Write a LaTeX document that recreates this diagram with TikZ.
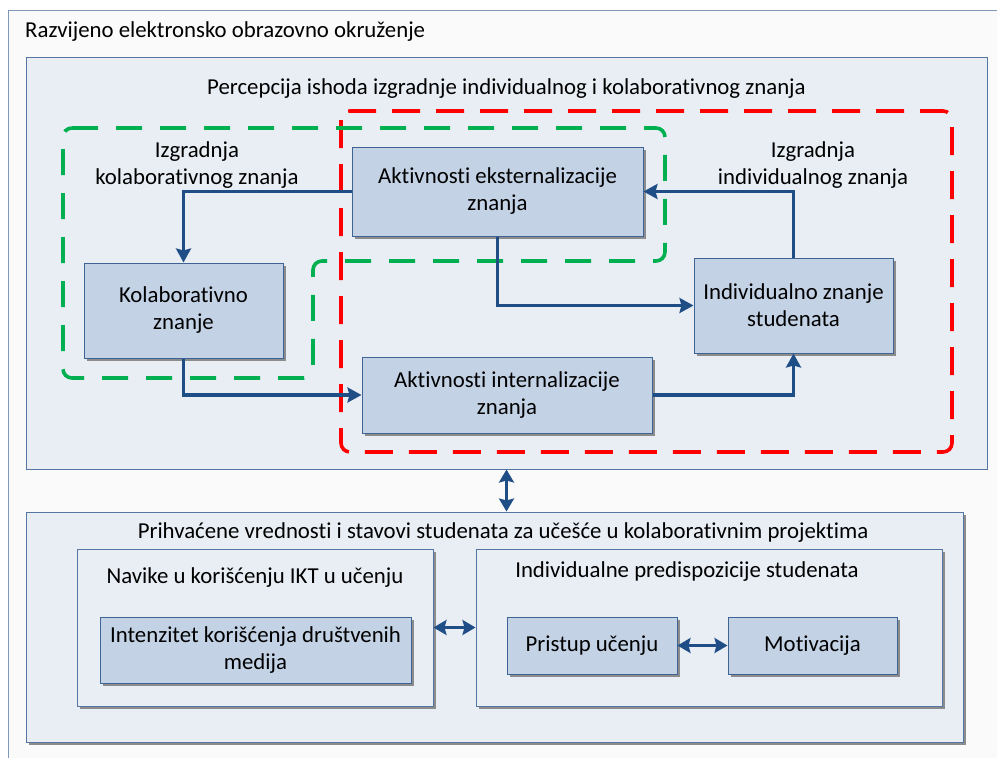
\documentclass[tikz,border=0pt]{standalone}
\usepackage{fontspec}
\setmainfont[Ligatures={NoCommon,NoRare}]{Carlito}
\usetikzlibrary{arrows.meta,shadows}

\definecolor{framebg}{HTML}{FAFAFA}
\definecolor{framedraw}{HTML}{7F97B8}
\definecolor{panelbg}{HTML}{E9EEF5}
\definecolor{paneldraw}{HTML}{5575A3}
\definecolor{nodebg}{HTML}{C3D2E5}
\definecolor{nodedraw}{HTML}{3E6496}
\definecolor{linkcol}{HTML}{1F4E86}
\definecolor{grpgreen}{HTML}{00B050}
\definecolor{grpred}{HTML}{FF0000}

\tikzset{
  txt/.style={font=\fontsize{22.8}{27}\selectfont, align=center, inner sep=0pt},
  panel/.style={draw=paneldraw, fill=panelbg, line width=1pt, inner sep=0pt},
  container/.style={draw=paneldraw, fill=panelbg, line width=1pt, inner sep=0pt,
    drop shadow={shadow xshift=2.5pt, shadow yshift=-2.5pt, fill=black!45, opacity=1}},
  stepbox/.style={draw=nodedraw, fill=nodebg, line width=1pt, inner sep=0pt, align=center,
    font=\fontsize{22.8}{27}\selectfont,
    drop shadow={shadow xshift=2.5pt, shadow yshift=-2.5pt, fill=black!45, opacity=1}},
  link/.style={draw=linkcol, line width=3.3pt, -{Stealth[length=14pt,width=15pt,inset=2pt]}},
  dlink/.style={draw=linkcol, line width=3.3pt, {Stealth[length=13pt,width=15pt,inset=2pt]}-{Stealth[length=13pt,width=15pt,inset=2pt]}},
  greengroup/.style={draw=grpgreen, line width=3.6pt, dash pattern=on 26pt off 18pt, rounded corners=9pt},
  redgroup/.style={draw=grpred, line width=3.6pt, dash pattern=on 28pt off 16pt, rounded corners=9pt},
}

\begin{document}
\begin{tikzpicture}[x=1pt, y=-1pt]
  \clip (0,0) rectangle (997,758);
  \fill[white] (0,0) rectangle (997,758);

  % outer frame
  \draw[draw=framedraw, fill=framebg, line width=1pt] (8,10) rectangle (1020,790);
  \node[txt, anchor=west] (envtitle) at (25,32) {Razvijeno elektronsko obrazovno okruženje};

  % upper panel
  \node[panel, minimum width=961pt, minimum height=412pt] (upper) at (506.5,263) {};
  \node[txt] (uppertitle) at (506.5,89) {Percepcija ishoda izgradnje individualnog i kolaborativnog znanja};

  % lower panel
  \node[container, minimum width=937pt, minimum height=230pt] (lower) at (494.5,627) {};
  \node[txt] (lowertitle) at (503,533) {Prihvaćene vrednosti i stavovi studenata za učešće u kolaborativnim projektima};

  % group outlines
  \draw[redgroup] (341,111) rectangle (952,452);
  \draw[greengroup] (63,128) -- (665,128) -- (665,261) -- (313,261) -- (313,378) -- (63,378) -- cycle;

  % group labels
  \node[txt] (lblkol) at (197,165.5) {Izgradnja\\kolaborativnog znanja};
  \node[txt] (lblind) at (813,165.5) {Izgradnja\\individualnog znanja};

  % process nodes
  \node[stepbox, minimum width=291pt, minimum height=89pt] (ekst) at (497.5,191.5) {Aktivnosti eksternalizacije\\znanja};
  \node[stepbox, minimum width=199pt, minimum height=95pt] (kol) at (183.5,310.5) {Kolaborativno\\znanje};
  \node[stepbox, minimum width=290pt, minimum height=76pt] (inter) at (507,395) {Aktivnosti internalizacije\\znanja};
  \node[stepbox, minimum width=199pt, minimum height=95pt] (ind) at (793.5,305.5) {Individualno znanje\\studenata};

  % process connectors
  \draw[link] (ekst.west) -| (kol.north);
  \draw[link] (kol.south) |- (inter.west);
  \draw[link] (inter.east) -| (ind.south);
  \draw[link] (ind.north) |- (ekst.east);
  \draw[link] (ekst.south) |- (ind.west);

  % link between the two panels
  \draw[dlink] (upper.south) -- (upper.south |- lower.north);

  % lower containers
  \node[container, minimum width=356pt, minimum height=157pt] (habits) at (255,627.5) {};
  \node[txt] (habitstitle) at (255,578) {Navike u korišćenju IKT u učenju};
  \node[stepbox, minimum width=311pt, minimum height=66pt] (media) at (255.5,650) {Intenzitet korišćenja društvenih\\medija};

  \node[container, minimum width=466pt, minimum height=157pt] (dispo) at (709,627.5) {};
  \node[txt] (dispotitle) at (687,572) {Individualne predispozicije studenata};
  \node[stepbox, minimum width=170pt, minimum height=57pt] (approach) at (592,645.5) {Pristup učenju};
  \node[stepbox, minimum width=169pt, minimum height=57pt] (motiv) at (812.5,645.5) {Motivacija};

  \draw[dlink] (habits.east) -- (dispo.west);
  \draw[dlink] (approach.east) -- (motiv.west);
\end{tikzpicture}
\end{document}
